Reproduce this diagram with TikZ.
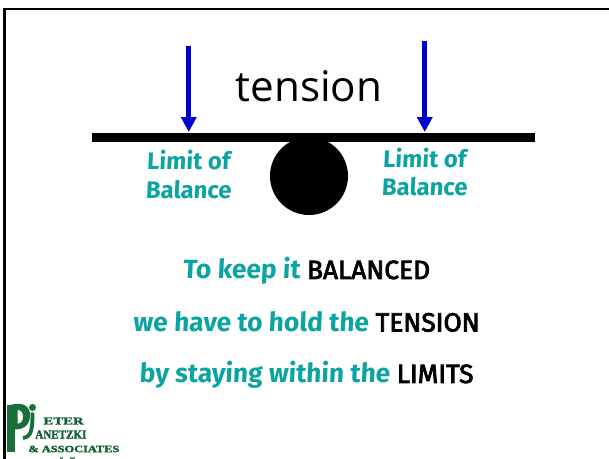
\documentclass[tikz,border=0pt]{standalone}
\usepackage{fontspec}
\setmainfont{Open Sans}
\newfontfamily\handfont[FakeSlant=0.05]{Fira Sans}
\newfontfamily\capsfont[FakeBold=3]{Fira Sans}
\newfontfamily\logofont[BoldFeatures={FakeBold=2}]{Liberation Serif}
\definecolor{balteal}{HTML}{0CA3A3}
\definecolor{arrowblue}{HTML}{0000CC}
\definecolor{logogreen}{HTML}{17703A}
\usetikzlibrary{arrows.meta}
\newcommand{\hand}[1]{\textcolor{balteal}{\handfont\bfseries #1}}
\newcommand{\capsword}[1]{{\capsfont #1}}
\tikzset{
  limitlabel/.style={text=balteal,font=\handfont\fontsize{13.6}{15}\selectfont\bfseries,inner sep=0pt},
  linelabel/.style={font=\fontsize{15}{17}\selectfont,inner sep=0pt,anchor=base},
  logotext/.style={text=logogreen!85!black,inner sep=0pt,anchor=west},
  pressarrow/.style={arrowblue,line width=2.8pt,-{Triangle[length=8.5pt,width=8.5pt]}},
}
\begin{document}
\begin{tikzpicture}[>=stealth, scale=1.0]
  \useasboundingbox (0,0) rectangle (12.18,9.18);

  % frame, open on the right and at the bottom
  \draw[line width=1.6pt] (0.09,0) -- (0.09,9.0) -- (12.18,9.0);

  % beam and ball
  \fill (1.84,6.34) rectangle (10.70,6.52);
  \coordinate (beamL) at (3.775,6.54);
  \coordinate (beamR) at (8.495,6.54);
  \node[circle,fill=black,inner sep=0pt,minimum size=1.56cm] (ball) at (6.18,5.66) {};

  % title
  \node[font=\fontsize{24}{28}\selectfont,inner sep=0pt] (title) at (6.18,7.46) {tension};

  % limits pressing on the beam
  \coordinate (topL) at (3.775,8.26);
  \coordinate (topR) at (8.495,8.36);
  \draw[pressarrow] (topL) -- (beamL);
  \draw[pressarrow] (topR) -- (beamR);

  \node[limitlabel] (limitL) at (3.77,5.98) {Limit of};
  \node[limitlabel] (balanceL) at (3.77,5.39) {Balance};
  \node[limitlabel] (limitR) at (8.49,6.02) {Limit of};
  \node[limitlabel] (balanceR) at (8.49,5.44) {Balance};

  % the three lines of text
  \node[linelabel] (lineA) at (6.13,3.60) {\hand{To keep it} \capsword{BALANCED}};
  \node[linelabel] (lineB) at (6.13,2.55) {\hand{we have to hold the} \capsword{TENSION}};
  \node[linelabel] (lineC) at (6.13,1.52) {\hand{by staying within the} \capsword{LIMITS}};

  % logo
  \fill[logogreen] (0.14,0.14) rectangle (0.30,1.08);
  \fill[logogreen,even odd rule] (0.20,1.08) .. controls (0.48,1.16) and (0.62,1.04) .. (0.60,0.84)
     .. controls (0.58,0.64) and (0.42,0.56) .. (0.20,0.60) -- cycle
     (0.35,0.98) .. controls (0.44,0.98) and (0.47,0.90) .. (0.46,0.82)
     .. controls (0.45,0.74) and (0.40,0.70) .. (0.35,0.70) -- cycle;
  \fill[logogreen] (0.65,1.03) circle (0.07);
  \draw[logogreen,line width=2.2pt] (0.65,0.93) .. controls (0.65,0.6) and (0.63,0.44) .. (0.46,0.42);
  \node[logotext,xscale=1.4,font=\logofont\bfseries\fontsize{6}{6}\selectfont] (logoA) at (0.86,0.76) {ETER};
  \node[logotext,xscale=0.9,font=\logofont\bfseries\fontsize{7}{7}\selectfont] (logoB) at (0.70,0.49) {ANETZKI};
  \node[logotext,xscale=1.28,font=\logofont\bfseries\fontsize{5.5}{6}\selectfont] (logoC) at (0.56,0.2) {\& ASSOCIATES};
  \fill[logogreen!70] (1.20,0) rectangle (1.26,0.04);
  \fill[logogreen!70] (1.40,0) rectangle (1.50,0.04);
\end{tikzpicture}
\end{document}
